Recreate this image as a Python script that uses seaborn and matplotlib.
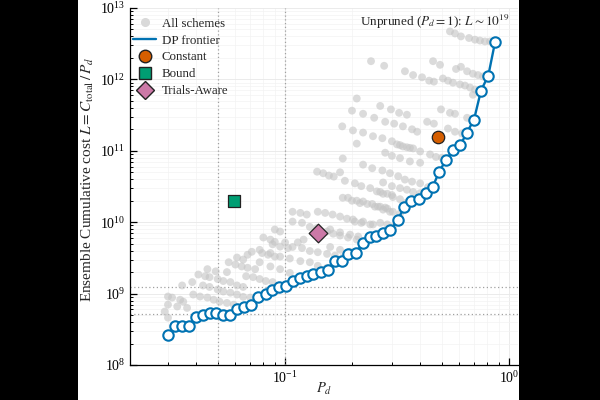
import numpy as np
import pandas as pd
import matplotlib
matplotlib.use("Agg")
import matplotlib.pyplot as plt
import seaborn as sns
from matplotlib.lines import Line2D
from matplotlib.patches import Rectangle
from matplotlib.ticker import LogLocator, NullFormatter

# ---------------- data ----------------
frontier_pd = [0.0300, 0.0323, 0.0347, 0.0373, 0.0401, 0.0428, 0.0460, 0.0494, 0.0530, 0.0568,
               0.0612, 0.0658, 0.0705, 0.0760, 0.0818, 0.0878, 0.0937, 0.101, 0.1085, 0.1167,
               0.125, 0.1338, 0.1443, 0.1556, 0.1672, 0.1791, 0.1917, 0.2075, 0.2222, 0.2384,
               0.2549, 0.2747, 0.2952, 0.3178, 0.3408, 0.3651, 0.3953, 0.4247, 0.4554, 0.488,
               0.5243, 0.5633, 0.6062, 0.6474, 0.6979, 0.7499, 0.8082, 0.866]
frontier_L = [2.67e8, 3.51e8, 3.51e8, 3.51e8, 4.69e8, 5.08e8, 5.30e8, 5.30e8, 5.08e8, 5.08e8,
              6.07e8, 6.51e8, 6.90e8, 9.08e8, 9.94e8, 1.12e9, 1.23e9, 1.29e9, 1.49e9, 1.64e9,
              1.77e9, 1.86e9, 2.02e9, 2.13e9, 2.83e9, 2.85e9, 3.55e9, 3.75e9, 5.09e9, 6.18e9,
              6.35e9, 7.15e9, 7.70e9, 1.06e10, 1.63e10, 2.01e10, 2.12e10, 2.54e10, 3.08e10, 5.12e10,
              7.53e10, 1.02e11, 1.20e11, 1.78e11, 2.74e11, 6.97e11, 1.13e12, 3.31e12]

scheme_pd = [
    0.545, 0.574, 0.610, 0.663, 0.705, 0.742, 0.781, 0.823,
    0.242, 0.277,
    0.458, 0.492, 0.580, 0.610, 0.650, 0.690, 0.727, 0.765,
    0.343, 0.373, 0.409, 0.440, 0.462, 0.507, 0.534, 0.562, 0.604, 0.636, 0.670, 0.705, 0.690,
    0.209, 0.199, 0.223, 0.266, 0.297, 0.323, 0.350, 0.497, 0.545, 0.574, 0.650,
    0.180, 0.201, 0.223, 0.247, 0.272, 0.300, 0.326, 0.350, 0.373, 0.401,
    0.250, 0.280, 0.307, 0.336, 0.369, 0.389, 0.431, 0.462, 0.534, 0.574, 0.617,
    0.209, 0.280, 0.300, 0.326, 0.361, 0.401, 0.444, 0.472, 0.502, 0.316, 0.336, 0.361,
    0.181, 0.223, 0.245, 0.272, 0.294, 0.320, 0.343, 0.369, 0.401, 0.435,
    0.139, 0.148, 0.157, 0.165, 0.176, 0.185, 0.205, 0.219, 0.240, 0.257, 0.274, 0.300,
    0.181, 0.191, 0.209, 0.223, 0.245, 0.260, 0.280, 0.266, 0.286, 0.303, 0.326, 0.350,
    0.108, 0.117, 0.125, 0.140, 0.151, 0.163, 0.176, 0.189, 0.205, 0.219, 0.240, 0.266, 0.286, 0.303, 0.326,
    0.090, 0.095, 0.108, 0.119, 0.129, 0.139, 0.154, 0.164, 0.176, 0.191, 0.209, 0.266, 0.286, 0.303,
    0.080, 0.086, 0.090, 0.100, 0.108, 0.119, 0.129, 0.140, 0.154, 0.167, 0.181,
    0.077, 0.086, 0.095, 0.105, 0.117, 0.129, 0.140, 0.154,
    0.077, 0.086, 0.095, 0.105,
    0.071, 0.079, 0.084, 0.090, 0.068, 0.088, 0.095, 0.103, 0.114, 0.121,
    0.056, 0.060, 0.064, 0.068, 0.0735, 0.061, 0.065,
    0.041, 0.044, 0.046, 0.050, 0.053, 0.057, 0.061, 0.065, 0.045, 0.049, 0.055,
    0.067, 0.072, 0.077, 0.082, 0.088,
    0.0347, 0.0385, 0.043, 0.046, 0.050, 0.053, 0.057, 0.061, 0.065, 0.070,
    0.0300, 0.0313, 0.0340, 0.0351, 0.0300, 0.0330, 0.0365, 0.0389, 0.0417, 0.045, 0.048, 0.051, 0.055, 0.059,
    0.0300, 0.029,
    0.274, 0.300, 0.326, 0.350, 0.373, 0.401,
    0.199, 0.216, 0.233, 0.252, 0.274, 0.294,
    0.201, 0.223, 0.247, 0.159, 0.176, 0.195, 0.212, 0.159, 0.176, 0.195,
]
scheme_L = [
    4.7e12, 4.4e12, 4.0e12, 3.8e12, 3.6e12, 3.5e12, 3.4e12, 3.4e12,
    1.8e12, 1.55e12,
    1.8e12, 1.6e12, 1.4e12, 1.5e12, 1.3e12, 1.2e12, 1.15e12, 1.1e12,
    1.3e12, 1.15e12, 1.07e12, 9.6e11, 9.3e11, 1.03e12, 9.6e11, 9.0e11, 8.5e11, 8.2e11, 7.7e11, 7.2e11, 6.1e11,
    5.4e11, 3.65e11, 3.3e11, 4.25e11, 3.8e11, 3.4e11, 3.2e11, 3.8e11, 3.4e11, 3.3e11, 2.9e11,
    2.2e11, 1.93e11, 1.8e11, 1.6e11, 1.5e11, 1.36e11, 1.2e11, 1.12e11, 1.08e11, 9.8e10,
    2.9e11, 2.55e11, 2.4e11, 2.2e11, 2.0e11, 1.85e11, 2.55e11, 2.4e11, 2.05e11, 1.85e11, 1.75e11,
    1.26e11, 9.4e10, 8.5e10, 7.9e10, 7.1e10, 6.8e10, 8.9e10, 8.2e10, 8.0e10, 1.23e11, 1.15e11, 1.1e11,
    7.8e10, 6.4e10, 5.7e10, 5.3e10, 4.85e10, 4.4e10, 3.95e10, 3.7e10, 3.5e10, 3.1e10,
    5.1e10, 4.85e10, 4.5e10, 4.35e10, 5.0e10, 3.8e10, 3.5e10, 3.2e10, 3.0e10, 2.7e10, 2.5e10, 2.4e10,
    2.2e10, 2.2e10, 2.0e10, 1.95e10, 1.8e10, 1.65e10, 1.6e10, 2.65e10, 2.5e10, 2.25e10, 2.1e10, 1.9e10,
    1.4e10, 1.35e10, 1.28e10, 1.4e10, 1.35e10, 1.28e10, 1.2e10, 1.12e10, 1.02e10, 9.8e9, 9.3e9, 1.65e10, 1.55e10, 1.4e10, 1.32e10,
    7.9e9, 7.4e9, 1.02e10, 9.8e9, 8.6e9, 8.3e9, 7.4e9, 6.9e9, 6.5e9, 6.1e9, 5.7e9, 9.8e9, 9.3e9, 8.6e9,
    6.1e9, 5.7e9, 5.3e9, 5.2e9, 4.5e9, 4.35e9, 3.95e9, 3.8e9, 3.6e9, 3.4e9, 3.2e9,
    4.1e9, 3.7e9, 3.3e9, 3.1e9, 2.85e9, 2.75e9, 2.45e9, 2.3e9,
    2.75e9, 2.4e9, 2.2e9, 1.95e9,
    3.85e9, 3.7e9, 3.5e9, 3.3e9, 3.5e9, 4.9e9, 4.55e9, 4.35e9, 5.2e9, 5.7e9,
    2.75e9, 2.55e9, 2.4e9, 2.3e9, 2.2e9, 3.2e9, 3.0e9,
    1.85e9, 1.75e9, 1.7e9, 1.6e9, 1.5e9, 1.45e9, 1.3e9, 1.24e9, 2.2e9, 2.05e9, 2.0e9,
    1.75e9, 1.7e9, 1.6e9, 1.5e9, 1.45e9,
    1.3e9, 1.45e9, 1.3e9, 1.24e9, 1.14e9, 1.07e9, 1.03e9, 9.7e8, 9.0e8, 8.8e8,
    9.1e8, 8.8e8, 8.2e8, 7.7e8, 7.0e8, 6.6e8, 6.3e8, 9.7e8, 9.1e8, 8.8e8, 8.2e8, 7.7e8, 7.4e8, 7.0e8,
    4.6e8, 5.6e8,
    3.6e10, 3.2e10, 3.0e10, 2.85e10, 2.65e10, 2.55e10,
    2.0e10, 1.85e10, 1.8e10, 1.65e10, 1.5e10, 1.4e10,
    1.09e10, 1.02e10, 9.3e9, 7.9e9, 7.2e9, 6.7e9, 6.3e9, 4.5e9, 4.1e9, 3.85e9,
]

named_labels = ["Constant", "Bound", "Trials-Aware"]
named_pd = [0.482, 0.059, 0.141]
named_L = [1.58e11, 1.96e10, 7.08e9]

ref_pd = [0.05, 0.1]
ref_L = [5.2e8, 1.25e9]

# ---------------- style ----------------
sns.set_style("ticks")
plt.rcParams["font.family"] = ["Liberation Serif", "DejaVu Serif"]
plt.rcParams["mathtext.fontset"] = "stix"

BLUE = "#0072B2"
ORANGE = "#D55E00"
GREEN = "#009E73"
PINK = "#CC79A7"
GRAY = "#c4c4c4"

fig = plt.figure(figsize=(6, 4), dpi=100, facecolor="black")
fig.patches.append(Rectangle((78 / 600, 0), 441 / 600, 1, transform=fig.transFigure,
                             facecolor="white", edgecolor="none", zorder=-10))
ax = fig.add_axes([130 / 600, 35 / 400, 388 / 600, 357 / 400])
ax.set_facecolor("white")
ax.set_xscale("log")
ax.set_yscale("log")

# reference lines
for p in ref_pd:
    ax.axvline(p, color="#a0a0a0", ls=(0, (1, 2)), lw=0.9, zorder=1)
for l in ref_L:
    ax.axhline(l, color="#a0a0a0", ls=(0, (1, 2)), lw=0.9, zorder=1)

scheme_df = pd.DataFrame({"P_d": scheme_pd, "L": scheme_L})
sns.scatterplot(data=scheme_df, x="P_d", y="L", ax=ax, color=GRAY, alpha=0.6, s=32,
                edgecolor="none", zorder=2, legend=False)

front_df = pd.DataFrame({"P_d": frontier_pd, "L": frontier_L})
sns.lineplot(data=front_df, x="P_d", y="L", ax=ax, sort=False, estimator=None,
             color=BLUE, lw=1.7, marker="o", markersize=7.5, markerfacecolor="white",
             markeredgecolor=BLUE, markeredgewidth=1.5, zorder=4, legend=False)

mk = {"Constant": ("o", ORANGE, 80), "Bound": ("s", GREEN, 80), "Trials-Aware": ("D", PINK, 90)}
for lab, p, l in zip(named_labels, named_pd, named_L):
    m, c, s = mk[lab]
    sns.scatterplot(x=[p], y=[l], ax=ax, marker=m, s=s, color=c, edgecolor="#222222",
                    linewidth=0.9, zorder=5, legend=False)

ax.set_xlim(0.0203, 1.097)
ax.set_ylim(1e8, 1e13)

ax.xaxis.set_major_locator(LogLocator(base=10))
ax.xaxis.set_minor_locator(LogLocator(base=10, subs=np.arange(2, 10)))
ax.xaxis.set_minor_formatter(NullFormatter())
ax.yaxis.set_major_locator(LogLocator(base=10))
ax.yaxis.set_minor_locator(LogLocator(base=10, subs=np.arange(2, 10)))
ax.yaxis.set_minor_formatter(NullFormatter())
ax.tick_params(which="both", direction="in", top=False, right=False, colors="black")
ax.tick_params(which="major", length=5, width=0.9, labelsize=10)
ax.tick_params(which="minor", length=2.5, width=0.7)

ax.grid(which="major", color="#e8e8e8", lw=0.6)
ax.grid(which="minor", color="#f3f3f3", lw=0.5)
ax.set_axisbelow(True)
sns.despine(ax=ax)
for sp in ["left", "bottom"]:
    ax.spines[sp].set_color("black")
    ax.spines[sp].set_linewidth(0.9)

ax.set_xlabel(r"$P_d$", fontsize=10.5)
ax.xaxis.set_label_coords(0.5, -0.045)
ax.set_ylabel(r"Ensemble Cumulative cost $L = C_{\mathrm{total}}\,/\,P_d$", fontsize=11)
ax.yaxis.set_label_coords(-0.088, 0.52)

ax.text(0.979, 0.961, r"Unpruned ($P_d = 1$): $L \sim 10^{19}$", transform=ax.transAxes,
        ha="right", va="center", fontsize=9.5)

handles = [
    Line2D([], [], ls="none", marker="o", color="#d9d9d9", markersize=5.5),
    Line2D([], [], color=BLUE, lw=1.7),
    Line2D([], [], ls="none", marker="o", markerfacecolor=ORANGE, markeredgecolor="#222222", markersize=9),
    Line2D([], [], ls="none", marker="s", markerfacecolor=GREEN, markeredgecolor="#222222", markersize=9),
    Line2D([], [], ls="none", marker="D", markerfacecolor=PINK, markeredgecolor="#222222", markersize=9),
]
labels = ["All schemes", "DP frontier"] + named_labels
ax.legend(handles, labels, loc="upper left", bbox_to_anchor=(-0.012, 0.995), frameon=False,
          fontsize=9.3, handlelength=1.8, handletextpad=0.4, labelspacing=0.38, borderaxespad=0.2)

fig.savefig("out.png", dpi=100, facecolor=fig.get_facecolor())
